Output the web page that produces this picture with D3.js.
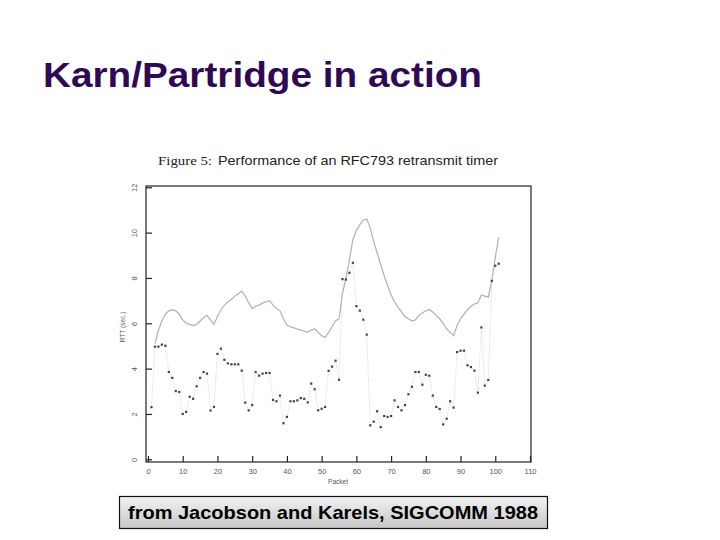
<!DOCTYPE html>
<html><head><meta charset="utf-8">
<script src="https://cdn.jsdelivr.net/npm/d3@7"></script>
<style>body{margin:0;background:#fff}svg{display:block}</style>
</head><body>
<script>
// RTT samples (sec.) for packets 1..101
const rttPackets = d3.range(1, 102);
const rttValues = [2.3,4.97,4.97,5.06,5.01,3.85,3.59,3.01,2.97,2.0,
 2.09,2.76,2.67,3.22,3.59,3.85,3.78,2.15,2.31,4.65,
 4.88,4.39,4.23,4.19,4.19,4.19,3.91,2.5,2.16,2.39,
 3.85,3.69,3.78,3.81,3.81,2.62,2.56,2.81,1.59,1.87,
 2.56,2.56,2.6,2.7,2.67,2.51,3.34,3.09,2.16,2.23,
 2.31,3.9,4.09,4.35,3.51,7.95,7.93,8.23,8.67,6.76,
 6.56,6.16,5.5,1.5,1.66,2.12,1.42,1.91,1.87,1.91,
 2.6,2.31,2.16,2.39,2.87,3.2,3.85,3.85,3.29,3.73,
 3.69,2.81,2.31,2.22,1.54,1.79,2.56,2.28,4.73,4.79,
 4.79,4.15,4.07,3.91,2.94,5.82,3.25,3.5,7.87,8.54,8.63];
// RFC793 retransmit timer estimate, packets 2..101
const rtoPackets = d3.range(2, 102);
const rtoValues = [5.1,5.7,6.1,6.4,6.55,6.6,6.55,6.4,6.15,
 6.0,5.95,5.9,5.95,6.1,6.25,6.35,6.15,5.95,6.3,
 6.6,6.8,6.95,7.05,7.2,7.3,7.42,7.2,6.9,6.65,
 6.75,6.8,6.9,6.95,7.0,6.8,6.65,6.55,6.2,5.92,
 5.85,5.8,5.75,5.7,5.65,5.6,5.7,5.75,5.6,5.45,
 5.38,5.6,5.85,6.1,6.2,7.3,8.0,8.8,9.7,10.1,
 10.35,10.55,10.6,10.2,9.6,9.1,8.6,8.1,7.65,7.25,
 6.95,6.7,6.5,6.3,6.2,6.1,6.15,6.35,6.45,6.55,
 6.6,6.5,6.35,6.2,6.0,5.75,5.6,5.45,5.9,6.2,
 6.4,6.6,6.75,6.85,6.9,7.25,7.2,7.15,7.9,8.9,9.8];
const xTicks = [0,10,20,30,40,50,60,70,80,90,100,110];
const yTicks = [0,2,4,6,8,10,12];

const W = 720, H = 540;
const svg = d3.select("body").append("svg").attr("width", W).attr("height", H);

// Slide title
svg.append("text").attr("x", 43).attr("y", 87)
  .attr("font-family", "Arial, 'Liberation Sans', sans-serif").attr("font-weight", "bold")
  .attr("font-size", 35).attr("fill", "#2e0a56")
  .attr("textLength", 439).attr("lengthAdjust", "spacingAndGlyphs")
  .text("Karn/Partridge in action");

// Figure caption
svg.append("text").attr("x", 158).attr("y", 165)
  .attr("font-family", "'Liberation Serif', 'Times New Roman', serif")
  .attr("font-size", 13.5).attr("fill", "#222")
  .attr("textLength", 54).attr("lengthAdjust", "spacingAndGlyphs")
  .text("Figure 5:");
svg.append("text").attr("x", 218).attr("y", 165)
  .attr("font-family", "Arial, 'Liberation Sans', sans-serif")
  .attr("font-size", 13.5).attr("fill", "#222")
  .attr("textLength", 280).attr("lengthAdjust", "spacingAndGlyphs")
  .text("Performance of an RFC793 retransmit timer");

const x = d3.scaleLinear().domain([0, 110]).range([148, 530]);
const y = d3.scaleLinear().domain([0, 12]).range([459.3, 187.3]);

const frameL = 146, frameR = 531, frameT = 186, frameB = 462;
svg.append("rect").attr("x", frameL).attr("y", frameT)
  .attr("width", frameR - frameL).attr("height", frameB - frameT)
  .attr("fill", "none").attr("stroke", "#222").attr("stroke-width", 1.2);

// x axis (ticks pointing inward)
const xAxis = svg.append("g").attr("transform", `translate(0,${frameB})`)
  .call(d3.axisBottom(x).tickValues(xTicks).tickSize(-6).tickPadding(10).tickFormat(d3.format("d")));
xAxis.select(".domain").remove();
xAxis.selectAll("line").attr("stroke", "#222").attr("stroke-width", 1.2);
xAxis.selectAll("text").attr("font-family", "Arial, 'Liberation Sans', sans-serif")
  .attr("font-size", 7.5).attr("fill", "#555").attr("dy", "0.3em");

// y axis
const yAxis = svg.append("g").attr("transform", `translate(${frameL},0)`)
  .call(d3.axisLeft(y).tickValues(yTicks).tickSize(-6).tickPadding(0).tickFormat(d3.format("d")));
yAxis.select(".domain").remove();
yAxis.selectAll("line").attr("stroke", "#222").attr("stroke-width", 1.2);
yAxis.selectAll("text")
  .attr("font-family", "Arial, 'Liberation Sans', sans-serif")
  .attr("font-size", 7.5).attr("fill", "#555")
  .attr("x", null).attr("dy", null)
  .attr("text-anchor", "middle")
  .attr("transform", "translate(-9,0) rotate(-90)")
  .attr("y", 0);

svg.append("text").attr("x", 338).attr("y", 484).attr("text-anchor", "middle")
  .attr("font-family", "Arial, 'Liberation Sans', sans-serif").attr("font-size", 6.5)
  .attr("fill", "#555").text("Packet");
svg.append("text").attr("transform", "translate(125,327) rotate(-90)").attr("text-anchor", "middle")
  .attr("font-family", "Arial, 'Liberation Sans', sans-serif").attr("font-size", 6.5)
  .attr("fill", "#555").text("RTT (sec.)");

// RTO line
const rtoData = rtoPackets.map((p, i) => [p, rtoValues[i]]);
svg.append("path").datum(rtoData)
  .attr("d", d3.line().x(d => x(d[0])).y(d => y(d[1])))
  .attr("fill", "none").attr("stroke", "#b0b0b0").attr("stroke-width", 1.2);

// RTT dotted connecting line + points
const rttData = rttPackets.map((p, i) => [p, rttValues[i]]);
svg.append("path").datum(rttData)
  .attr("d", d3.line().x(d => x(d[0])).y(d => y(d[1])))
  .attr("fill", "none").attr("stroke", "#cccccc").attr("stroke-width", 0.8)
  .attr("stroke-dasharray", "1,1.2");
svg.append("g").selectAll("rect").data(rttData).join("rect")
  .attr("x", d => x(d[0]) - 1.1).attr("y", d => y(d[1]) - 1.1)
  .attr("width", 2.2).attr("height", 2.2).attr("fill", "#444");

// Source box
const grad = svg.append("defs").append("linearGradient").attr("id", "bg")
  .attr("x1", 0).attr("y1", 0).attr("x2", 0).attr("y2", 1);
grad.append("stop").attr("offset", 0).attr("stop-color", "#f2f2f2");
grad.append("stop").attr("offset", 1).attr("stop-color", "#c6c6c6");
svg.append("rect").attr("x", 119.5).attr("y", 496.5).attr("width", 428).attr("height", 32)
  .attr("fill", "url(#bg)").attr("stroke", "#111").attr("stroke-width", 1.2);
svg.append("text").attr("x", 128).attr("y", 519)
  .attr("font-family", "Arial, 'Liberation Sans', sans-serif").attr("font-weight", "bold")
  .attr("font-size", 18.5).attr("fill", "#000")
  .attr("textLength", 410).attr("lengthAdjust", "spacingAndGlyphs")
  .text("from Jacobson and Karels, SIGCOMM 1988");
</script>
</body></html>
